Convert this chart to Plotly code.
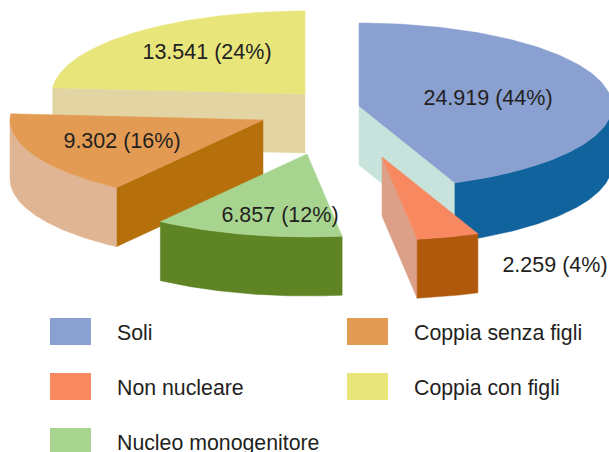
import numpy as np
import plotly.graph_objects as go

categories = ["Soli", "Non nucleare", "Nucleo monogenitore", "Coppia senza figli", "Coppia con figli"]
values = [24919, 2259, 6857, 9302, 13541]
percent_labels = ["44%", "4%", "12%", "16%", "24%"]

top_colors = ["#8AA0D1", "#F78860", "#A7D590", "#E39B54", "#E8E57A"]
outer_colors = ["#10639C", "#B0590D", "#5F8423", "#E0B594", "#E3D5A3"]
cut_colors = ["#C7E3DC", "#DCA088", "#5F8423", "#B56F0B", "#E3D5A3"]

# layout of the exploded 3D pie
apex_x = [359, 382, 307, 263, 305]
apex_y = [106, 157, 154, 120, 94]
label_x = [488, 555, 280, 122, 207]
label_y = [99.5, 266.5, 216.5, 142.5, 53.5]
RX, RY, DEPTH = 253, 83, 59
draw_order = [4, 3, 2, 0, 1]

TEXT = "#231F20"
FONT = "Liberation Sans"

total = sum(values)
edges = np.concatenate([[0], np.cumsum(values)]) / total * 360


def arc(cx, cy, a0, a1, dy=0.0):
    t = np.radians(np.linspace(a0, a1, 120))
    return cx + RX * np.sin(t), cy - RY * np.cos(t) + dy


fig = go.Figure()


def poly(xs, ys, color):
    fig.add_trace(go.Scatter(
        x=np.r_[xs, xs[0]], y=np.r_[ys, ys[0]], mode="lines", fill="toself",
        fillcolor=color, line=dict(color=color, width=0.5), hoverinfo="skip", showlegend=False,
    ))


for i in draw_order:
    cx, cy = apex_x[i], apex_y[i]
    a0, a1 = edges[i], edges[i + 1]
    # cut faces that look towards the viewer
    for ang, visible in ((a1, 0 < a1 < 180), (a0, 180 < a0 < 360)):
        if visible:
            ex, ey = arc(cx, cy, ang, ang)
            ex, ey = ex[0], ey[0]
            poly(np.array([cx, ex, ex, cx]), np.array([cy, ey, ey + DEPTH, cy + DEPTH]), cut_colors[i])
    # rim
    lo, hi = max(a0, 90), min(a1, 270)
    if lo < hi:
        xt, yt = arc(cx, cy, lo, hi)
        xb, yb = arc(cx, cy, lo, hi, DEPTH)
        poly(np.r_[xt, xb[::-1]], np.r_[yt, yb[::-1]], outer_colors[i])
    # top
    xt, yt = arc(cx, cy, a0, a1)
    poly(np.r_[cx, xt], np.r_[cy, yt], top_colors[i])

data_labels = [f"{v:,}".replace(",", ".") + f" ({p})" for v, p in zip(values, percent_labels)]
fig.add_trace(go.Scatter(
    x=label_x, y=label_y, mode="text", text=data_labels, textposition="middle center",
    textfont=dict(family=FONT, size=21.5, color=TEXT), hoverinfo="skip", showlegend=False,
    cliponaxis=False,
))

# legend
swatch_x = [50, 50, 50, 347, 347]
swatch_y = [318, 373, 428, 318, 373]
SW, SH = 41, 27
text_x = [x + 67 for x in swatch_x]
text_y = [y + 17 for y in swatch_y]
shapes = [
    dict(type="rect", xref="x", yref="y", x0=x, x1=x + SW, y0=y, y1=y + SH,
         fillcolor=c, line=dict(width=0), layer="below")
    for x, y, c in zip(swatch_x, swatch_y, top_colors)
]
fig.add_trace(go.Scatter(
    x=text_x, y=text_y, mode="text", text=categories, textposition="middle right",
    textfont=dict(family=FONT, size=21.3, color=TEXT), hoverinfo="skip", showlegend=False,
    cliponaxis=False,
))

fig.update_layout(
    width=609, height=452, margin=dict(l=0, r=0, t=0, b=0),
    paper_bgcolor="white", plot_bgcolor="white", shapes=shapes, showlegend=False,
    xaxis=dict(range=[0, 609], visible=False, fixedrange=True),
    yaxis=dict(range=[452, 0], visible=False, fixedrange=True),
)
fig.write_html("out.html", config=dict(displayModeBar=False),
               post_script="document.body.style.margin='0';document.body.style.overflow='hidden';")
